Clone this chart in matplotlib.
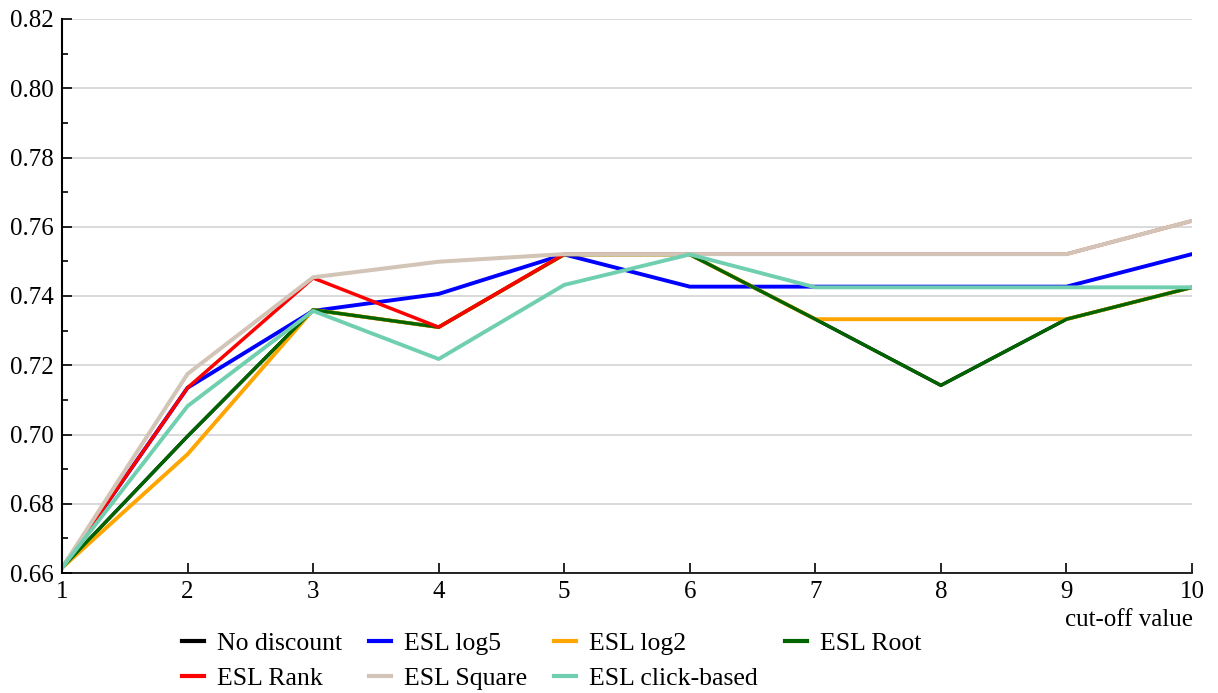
import numpy as np
import matplotlib.pyplot as plt
from matplotlib.ticker import MultipleLocator

plt.rcParams["font.family"] = ["Liberation Serif", "DejaVu Serif"]

cutoff = [1, 2, 3, 4, 5, 6, 7, 8, 9, 10]

no_discount = [0.6615, 0.6995, 0.736, 0.731, 0.752, 0.752, 0.7333, 0.7142, 0.7333, 0.7425]
esl_log5 = [0.6615, 0.7135, 0.7357, 0.7406, 0.752, 0.7427, 0.7427, 0.7427, 0.7427, 0.7521]
esl_log2 = [0.6615, 0.6943, 0.736, 0.731, 0.752, 0.752, 0.7333, 0.7333, 0.7333, 0.7425]
esl_root = [0.6615, 0.6995, 0.736, 0.731, 0.752, 0.752, 0.7333, 0.7142, 0.7333, 0.7425]
esl_rank = [0.6615, 0.7135, 0.7452, 0.731, 0.7521, 0.7521, 0.7521, 0.7521, 0.7521, 0.7617]
esl_square = [0.6615, 0.7175, 0.7454, 0.7499, 0.7521, 0.7521, 0.7521, 0.7521, 0.7521, 0.7617]
esl_click = [0.6615, 0.7082, 0.7357, 0.7218, 0.7432, 0.752, 0.7425, 0.7425, 0.7425, 0.7425]

# drawn in this order (later on top)
series = [
    ("No discount", no_discount, "black", 2.4),
    ("ESL log5", esl_log5, "#0000ff", 2.8),
    ("ESL log2", esl_log2, "#ffa500", 2.8),
    ("ESL Root", esl_root, "#006400", 2.4),
    ("ESL Rank", esl_rank, "#ff0000", 2.5),
    ("ESL Square", esl_square, "#d2c4b6", 2.9),
    ("ESL click-based", esl_click, "#6fcfb0", 2.8),
]

fig = plt.figure(figsize=(12.18, 6.93), dpi=100)
ax = fig.add_axes([62 / 1218, 1 - 573 / 693, 1130 / 1218, 554 / 693])

lines = {}
for name, vals, color, lw in series:
    (ln,) = ax.plot(cutoff, vals, color=color, lw=lw, label=name)
    lines[name] = ln

ax.set_xlim(1, 10)
ax.set_ylim(0.66, 0.82)
ax.set_xticks(cutoff)
ax.yaxis.set_major_locator(MultipleLocator(0.02))
ax.yaxis.set_minor_locator(MultipleLocator(0.01))
ax.yaxis.set_major_formatter(plt.FormatStrFormatter("%.2f"))
ax.grid(axis="y", color="#d3d3d3", lw=1.2)
ax.set_axisbelow(True)
for s in ["top", "right"]:
    ax.spines[s].set_visible(False)
ax.spines["left"].set_linewidth(1.5)
ax.spines["bottom"].set_linewidth(1.2)
ax.tick_params(axis="both", which="major", direction="in", length=7, width=1.2,
               labelsize=18, pad=6)
ax.tick_params(axis="y", which="minor", direction="in", length=4, width=1.2)

fig.text(1193 / 1218, 1 - 620 / 693, "cut-off value", ha="right", va="center",
         fontsize=18)

order = ["No discount", "ESL Rank", "ESL log5", "ESL Square", "ESL log2",
         "ESL click-based", "ESL Root"]
leg = fig.legend([lines[n] for n in order], order, ncol=4, frameon=False,
                 loc="upper left", bbox_to_anchor=(182 / 1218, 1 - 632 / 693),
                 fontsize=18.5, handlelength=0.86, handletextpad=0.5,
                 columnspacing=1.05, labelspacing=0.45, borderaxespad=0,
                 borderpad=0)
for h in leg.legend_handles:
    h.set_linewidth(3)

fig.savefig("out.png", dpi=100)
